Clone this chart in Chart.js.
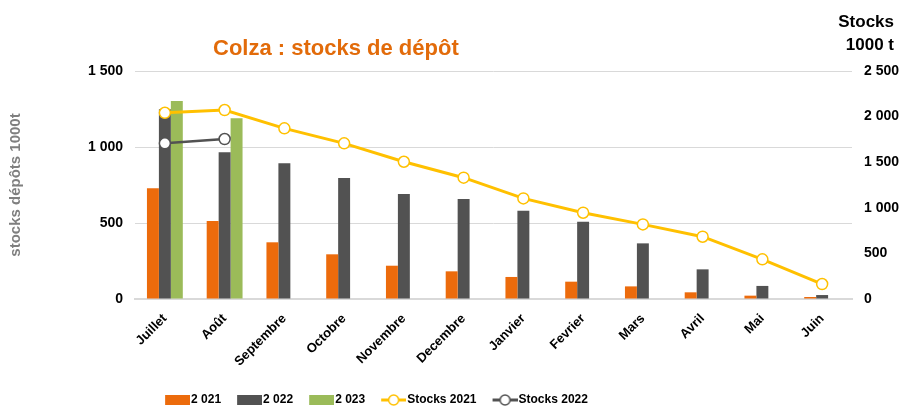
<!DOCTYPE html>
<html>
<head>
<meta charset="utf-8">
<script src="https://cdn.jsdelivr.net/npm/chart.js@4.4.1/dist/chart.umd.min.js"></script>
<style>
  body { margin: 0; background: #fff; }
  canvas { display: block; }
</style>
</head>
<body>
<canvas id="stockChart" width="902" height="408"></canvas>
<script>
const months = ['Juillet', 'Août', 'Septembre', 'Octobre', 'Novembre', 'Decembre', 'Janvier', 'Fevrier', 'Mars', 'Avril', 'Mai', 'Juin'];
const depot2021 = [728, 513, 373, 294, 219, 182, 145, 114, 83, 44, 22, 13];
const depot2022 = [1248, 965, 893, 796, 691, 658, 581, 509, 366, 195, 86, 26];
const depot2023 = [1303, 1189, null, null, null, null, null, null, null, null, null, null];
const stocks2021 = [2042, 2072, 1871, 1707, 1505, 1330, 1103, 946, 818, 683, 435, 164];
const stocks2022 = [1707, 1754, null, null, null, null, null, null, null, null, null, null];
const leftTicks = [0, 500, 1000, 1500];
const rightTicks = [0, 500, 1000, 1500, 2000, 2500];

const ORANGE = '#EC6B0C';
const DARK = '#525252';
const GREEN = '#9BBB59';
const YELLOW = '#FFC000';

const fmt = v => String(v).replace(/\B(?=(\d{3})+(?!\d))/g, ' ');

// little canvases used as legend markers (8px empty on the left = gap to previous item)
function rectMarker(color) {
    const c = document.createElement('canvas');
    c.width = 33; c.height = 14;
    const g = c.getContext('2d');
    g.fillStyle = color;
    g.fillRect(8, 2, 25, 10);
    return c;
}
function lineMarker(color) {
    const c = document.createElement('canvas');
    c.width = 33; c.height = 14;
    const g = c.getContext('2d');
    g.strokeStyle = color;
    g.lineWidth = 3;
    g.beginPath(); g.moveTo(8, 7); g.lineTo(33, 7); g.stroke();
    g.beginPath(); g.arc(20.5, 7, 5, 0, Math.PI * 2);
    g.fillStyle = '#fff'; g.fill();
    g.lineWidth = 1.5; g.stroke();
    return c;
}
const markers = [rectMarker(ORANGE), rectMarker(DARK), rectMarker(GREEN), lineMarker(YELLOW), lineMarker(DARK)];

const extras = {
    id: 'extras',
    afterLayout(chart) {
        const lg = chart.legend;
        lg.left -= 76; lg.right -= 76;
        lg.top += 8; lg.bottom += 8;
    },
    afterDraw(chart) {
        const ctx = chart.ctx;
        ctx.save();
        ctx.textBaseline = 'middle';
        ctx.fillStyle = '#E26B0A';
        ctx.font = 'bold 22px "Liberation Sans", Arial, sans-serif';
        ctx.fillText('Colza : stocks de dépôt', 213, 49);
        ctx.fillStyle = '#000';
        ctx.font = 'bold 17px "Liberation Sans", Arial, sans-serif';
        ctx.textAlign = 'right';
        ctx.fillText('Stocks', 894, 22);
        ctx.fillText('1000 t', 894, 45);
        ctx.restore();
    }
};

Chart.defaults.font.family = '"Liberation Sans", Arial, sans-serif';
Chart.defaults.color = '#000';

new Chart(document.getElementById('stockChart'), {
    type: 'bar',
    data: {
        labels: months,
        datasets: [
            { label: '2 021', data: depot2021, backgroundColor: ORANGE, yAxisID: 'y', order: 1 },
            { label: '2 022', data: depot2022, backgroundColor: DARK, yAxisID: 'y', order: 1 },
            { label: '2 023', data: depot2023, backgroundColor: GREEN, yAxisID: 'y', order: 1 },
            {
                type: 'line', label: 'Stocks 2021', data: stocks2021, yAxisID: 'y1', order: 0,
                borderColor: YELLOW, borderWidth: 3, pointRadius: 5.5,
                pointBackgroundColor: '#fff', pointBorderColor: YELLOW, pointBorderWidth: 1.5
            },
            {
                type: 'line', label: 'Stocks 2022', data: stocks2022, yAxisID: 'y1', order: 0,
                borderColor: DARK, borderWidth: 2.5, pointRadius: 5.5,
                pointBackgroundColor: '#fff', pointBorderColor: DARK, pointBorderWidth: 1.5
            }
        ]
    },
    options: {
        responsive: false,
        animation: false,
        layout: { padding: { top: 71, left: 0, right: 0, bottom: 0 } },
        datasets: { bar: { categoryPercentage: 0.6, barPercentage: 1.0 } },
        plugins: {
            tooltip: { enabled: false },
            legend: {
                position: 'bottom',
                sort: (a, b) => a.datasetIndex - b.datasetIndex,
                labels: {
                    usePointStyle: true,
                    pointStyleWidth: 23,
                    padding: 13,
                    color: '#000',
                    font: { size: 12, weight: 'bold' },
                    generateLabels(chart) {
                        return chart.data.datasets.map((ds, i) => ({
                            text: ds.label,
                            datasetIndex: i,
                            pointStyle: markers[i],
                            fillStyle: 'transparent',
                            strokeStyle: 'transparent',
                            lineWidth: 0,
                            fontColor: '#000'
                        }));
                    }
                }
            }
        },
        scales: {
            x: {
                grid: { display: false },
                border: { display: true, color: '#d9d9d9', width: 2 },
                ticks: { maxRotation: 45, minRotation: 45, padding: 4, font: { size: 13, weight: 'bold' } },
                afterFit(scale) { scale.height = 74; }
            },
            y: {
                position: 'left',
                min: 0, max: 1500,
                afterBuildTicks(scale) { scale.ticks = leftTicks.map(v => ({ value: v })); },
                grid: { color: '#d9d9d9', drawTicks: false },
                border: { display: false },
                ticks: { padding: 12, font: { size: 14, weight: 'bold' }, callback: v => fmt(v) },
                title: {
                    display: true, text: 'stocks dépôts 1000t', color: '#7f7f7f',
                    font: { size: 15, weight: 'bold' }, padding: { top: 7, bottom: 0 }
                },
                afterFit(scale) { scale.width = 135; }
            },
            y1: {
                position: 'right',
                min: 0, max: 2500,
                afterBuildTicks(scale) { scale.ticks = rightTicks.map(v => ({ value: v })); },
                grid: { display: false, drawTicks: false },
                border: { display: false },
                ticks: { padding: 12, font: { size: 14, weight: 'bold' }, callback: v => fmt(v) },
                afterFit(scale) { scale.width = 50; }
            }
        }
    },
    plugins: [extras]
});
</script>
</body>
</html>
